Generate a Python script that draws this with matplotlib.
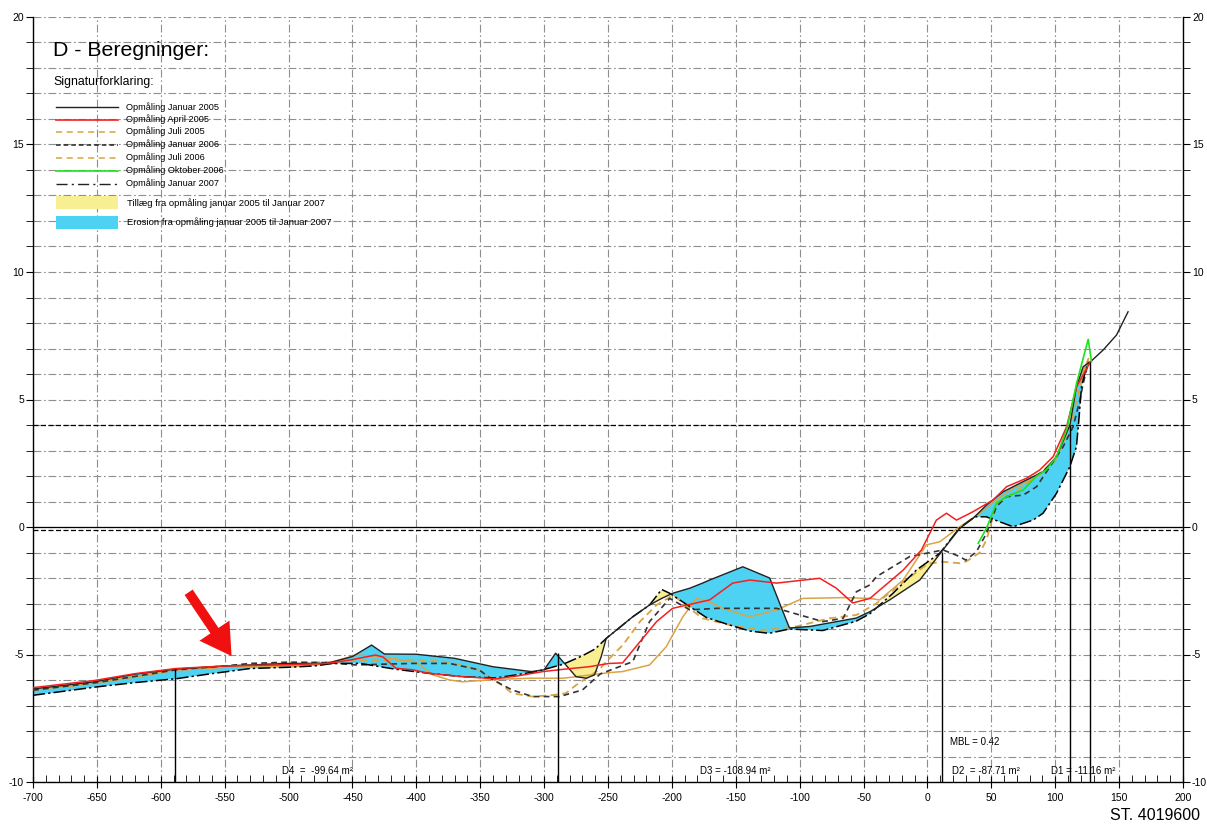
import numpy as np
import matplotlib
matplotlib.use('Agg')
import matplotlib.pyplot as plt
from matplotlib.lines import Line2D
from matplotlib.patches import Rectangle, FancyArrowPatch

plt.rcParams['font.family'] = ['Liberation Sans', 'DejaVu Sans']
plt.rcParams['axes.unicode_minus'] = False

# ---------------- data ----------------
# Opmåling Januar 2005 (black solid)
jan05_x = [-700, -652, -620, -588, -550, -500, -470, -450, -435, -425, -400, -370, -340, -310, -300,
           -291, -275, -267, -260.6, -255.3, -251.4, -230.6, -217.5, -208, -199.5, -186, -176, -170.5,
           -144.5, -123.5, -108, -92, -55.6, -45, -29.6, -6, 11, 25.3, 35.7, 46.2, 59.2, 74.9, 90.5,
           101, 111.5, 116.6, 121.9, 127.6, 137.5, 148, 157]
jan05_y = [-6.35, -6.07, -5.77, -5.57, -5.45, -5.35, -5.35, -5.08, -4.63, -4.98, -4.99, -5.15, -5.48, -5.67, -5.6,
           -4.95, -5.87, -5.93, -5.8, -5.08, -4.37, -3.52, -3.06, -2.8, -2.6, -2.4, -2.2, -2.08,
           -1.56, -2.0, -3.96, -3.9, -3.57, -3.32, -2.86, -2.08, -0.97, -0.05, 0.34, 0.86, 1.38, 1.78, 2.17,
           2.76, 4.0, 5.5, 6.29, 6.48, 6.94, 7.53, 8.44]

# Opmåling April 2005 (red)
apr05_x = [-700, -652, -620, -588, -550, -500, -470, -450, -432, -426, -416, -403, -390, -364, -338, -322,
           -301, -285, -265, -249, -238.6, -225, -212, -199.5, -170.5, -152.4, -139, -118, -84.3, -71.3,
           -58.5, -45, -19, -4.7, 7, 14.9, 22.7, 35.7, 51.4, 61.9, 77.5, 88, 98.4, 108.9, 116.7, 127.6]
apr05_y = [-6.3, -6.02, -5.75, -5.55, -5.45, -5.4, -5.35, -5.2, -5.02, -5.1, -5.54, -5.6, -5.74, -5.87, -5.95, -5.85,
           -5.67, -5.58, -5.48, -5.35, -5.33, -4.5, -3.71, -3.19, -2.86, -2.2, -2.08, -2.2, -2.01, -2.4,
           -2.98, -2.8, -1.69, -0.9, 0.27, 0.54, 0.27, 0.6, 1.06, 1.58, 1.91, 2.24, 2.76, 3.93, 5.5, 6.48]

# Opmåling Juli 2005 (tan dashed)
jul05_x = [-700, -650, -588, -550, -500, -470, -447, -400, -374, -351, -335, -325, -309, -293, -283, -275,
           -257, -251.4, -238.4, -225, -212, -199, -186, -176, -155, -128.6, -102.6, -76.5, -55.6, -40,
           -20, 0, 11, 25.3, 30.5, 41, 46.2, 54, 75, 100, 112, 120, 126]
jul05_y = [-6.4, -6.12, -5.62, -5.5, -5.33, -5.3, -5.25, -5.2, -5.3, -5.6, -6.13, -6.52, -6.65, -6.59, -6.52, -6.2,
           -5.6, -5.28, -4.63, -3.71, -3.06, -2.67, -3.2, -3.58, -3.84, -4.04, -3.9, -3.58, -3.45, -3.0,
           -2.2, -1.45, -1.36, -1.42, -1.35, -1.0, -0.51, 0.9, 1.6, 2.6, 4.0, 5.6, 6.6]

# Opmåling Januar 2006 (black dashed)
jan06_x = [-700, -650, -588, -550, -530, -500, -470, -447, -404, -374, -351, -340, -325, -309, -288, -270,
           -256, -230.6, -217.5, -201.7, -186, -165, -118, -81.8, -66, -55.6, -45, -40, -13.9, 12.2, 25.3,
           30, 38.3, 46.2, 54, 61.9, 74.9, 85.4, 95.8, 106.2, 114, 119.3, 121.9, 126]
jan06_y = [-6.4, -6.1, -5.6, -5.45, -5.35, -5.3, -5.32, -5.41, -5.35, -5.35, -5.6, -6.0, -6.39, -6.65, -6.65, -6.39,
           -5.76, -5.28, -3.71, -2.8, -3.25, -3.19, -3.19, -3.71, -3.58, -2.54, -2.27, -1.95, -1.16, -0.9, -1.16,
           -1.3, -0.97, -0.25, 0.8, 1.19, 1.25, 1.58, 2.36, 3.15, 3.93, 4.98, 5.63, 6.48]

# Opmåling Juli 2006 (tan solid in the profile)
jul06_x = [-700, -650, -588, -550, -520, -500, -470, -447, -429, -400, -387, -374, -364, -338, -311, -285,
           -249, -238.6, -217.5, -204.5, -191.4, -180.9, -170, -160, -139, -118, -97.6, -66, -45, -37.4,
           -19, -0.8, 9.6, 25.3, 41, 54, 67, 88, 101, 109, 116.7, 126]
jul06_y = [-6.38, -6.1, -5.6, -5.5, -5.45, -5.5, -5.35, -5.02, -5.08, -5.3, -5.8, -6.0, -6.07, -5.98, -5.93, -5.93,
           -5.71, -5.67, -5.41, -4.7, -3.52, -2.8, -2.95, -3.19, -3.52, -3.25, -2.8, -2.77, -2.8, -2.86,
           -2.08, -0.7, -0.58, 0.01, 0.54, 1.06, 1.52, 2.04, 2.7, 3.9, 5.5, 6.6]

# Opmåling Oktober 2006 (green)
okt06_x = [39.7, 46.2, 54, 61.9, 74.9, 85.4, 93, 101, 108.9, 116.7, 125.8, 128.4]
okt06_y = [-0.64, -0.05, 0.93, 1.19, 1.45, 2.0, 2.24, 2.76, 3.8, 5.63, 7.36, 6.48]

# Opmåling Januar 2007 (black dash-dot)
jan07_x = [-700, -650, -620, -588, -560, -530, -500, -480, -465, -444, -416, -390, -364, -338, -322, -306,
           -290, -285, -270, -260, -251.4, -230.6, -217.5, -208, -201.7, -186, -173, -155, -139, -124, -108,
           -82, -56, -45, -27, -8.7, 9.6, 25, 37, 46, 67, 82.6, 90.5, 101, 111.4, 116.6, 118.5, 120.6,
           124, 127.6]
jan07_y = [-6.6, -6.27, -6.1, -5.95, -5.75, -5.55, -5.5, -5.45, -5.35, -5.35, -5.58, -5.74, -5.87, -5.92, -5.8, -5.67,
           -5.45, -5.38, -5.05, -4.78, -4.37, -3.52, -3.06, -2.45, -2.6, -3.12, -3.55, -3.84, -4.08, -4.17, -4.0,
           -4.06, -3.7, -3.4, -2.6, -1.69, -1.03, -0.05, 0.4, 0.4, 0.01, 0.27, 0.54, 1.32, 2.36, 3.15, 4.2, 5.5,
           6.2, 6.48]

# section lines and volume annotations
section_x = [-588.5, -289, 11.2, 111.4, 127.6]
section_top = [-5.57, -4.95, -0.97, 4.0, 6.48]
labels_txt = ["D4  =  -99.64 m²", "D3 = -108.94 m²", "MBL = 0.42", "D2  = -87.71 m²", "D1 = -11.16 m²"]
labels_x = [-505, -178, 17.5, 19, 96.6]
labels_y = [-9.57, -9.57, -8.43, -9.57, -9.57]

legend_labels = ["Opmåling Januar 2005", "Opmåling April 2005", "Opmåling Juli 2005",
                 "Opmåling Januar 2006", "Opmåling Juli 2006", "Opmåling Oktober 2006",
                 "Opmåling Januar 2007"]
fill_labels = ["Tillæg fra opmåling januar 2005 til Januar 2007",
               "Erosion fra opmåling januar 2005 til Januar 2007"]

# ---------------- figure ----------------
W, H = 1207, 827
fig = plt.figure(figsize=(W / 100, H / 100), dpi=100)
ax = fig.add_axes([33 / W, 1 - 782 / H, (1183 - 33) / W, (782 - 17) / H])
ax.set_xlim(-700, 200)
ax.set_ylim(-10, 20)

BLUE = '#4dd2f4'
YEL = '#f8ee92'
TAN = '#d9a443'
RED = '#f42020'
GREEN = '#1fe01f'

gstyle = (0, (7, 2.5, 1.5, 2.5))
ax.set_xticks(np.arange(-700, 201, 50))
ax.set_xticks(np.arange(-700, 201, 10), minor=True)
ax.set_yticks(np.arange(-10, 21, 5))
ax.set_yticks(np.arange(-10, 21, 1), minor=True)
ax.grid(True, which='major', axis='x', color='#8e8e8e', lw=0.8, linestyle=gstyle)
ax.grid(True, which='both', axis='y', color='#8e8e8e', lw=0.8, linestyle=gstyle)
ax.set_axisbelow(True)
ax.spines['top'].set_visible(False)
for s in ['left', 'right', 'bottom']:
    ax.spines[s].set_linewidth(1.0)
ax.tick_params(axis='y', which='both', left=True, right=True, labelleft=True, labelright=True,
               direction='out', labelsize=7.5, pad=1.5)
ax.tick_params(axis='y', which='major', length=5)
ax.tick_params(axis='y', which='minor', length=5)
ax.tick_params(axis='x', which='major', direction='inout', length=9, labelsize=7.5)
ax.tick_params(axis='x', which='minor', direction='in', length=5)

# fills between Jan 2005 and Jan 2007
gx = np.union1d(jan05_x, jan07_x)
gx = gx[(gx >= -700) & (gx <= 127.6)]
a = np.interp(gx, jan05_x, jan05_y)
b = np.interp(gx, jan07_x, jan07_y)
ax.fill_between(gx, a, b, where=b > a, interpolate=True, color=YEL, lw=0, zorder=2)
ax.fill_between(gx, a, b, where=b < a, interpolate=True, color=BLUE, lw=0, zorder=2)

# reference lines
ax.axhline(4, color='black', lw=0.9, linestyle=(0, (4, 2)), zorder=3)
ax.axhline(0, color='black', lw=0.9, zorder=3)
ax.axhline(-0.12, color='black', lw=0.9, linestyle=(0, (4, 2)), zorder=3)

# profiles
ax.plot(jul06_x, jul06_y, color=TAN, lw=1.1, zorder=4)
ax.plot(jul05_x, jul05_y, color=TAN, lw=1.3, linestyle=(0, (4, 2.5)), zorder=4)
ax.plot(jan06_x, jan06_y, color='#333333', lw=1.2, linestyle=(0, (3.5, 2.5)), zorder=4)
ax.plot(jan07_x, jan07_y, color='black', lw=1.1, linestyle=(0, (8, 2, 1.5, 2)), zorder=5)
ax.plot(jan05_x, jan05_y, color='#222222', lw=1.0, zorder=5)
ax.plot(apr05_x, apr05_y, color=RED, lw=1.1, zorder=6)
ax.plot(okt06_x, okt06_y, color=GREEN, lw=1.2, zorder=6)

# section lines
ax.vlines(section_x, -10, section_top, color='black', lw=1.0, zorder=6)
for t, x, y in zip(labels_txt, labels_x, labels_y):
    ax.text(x, y, t, fontsize=7, va='center', ha='left', zorder=7)

# red arrow
arr = FancyArrowPatch((-579.4, -2.47), (-543.4, -5.15),
                      arrowstyle='simple,head_length=1.1,head_width=1.3,tail_width=0.35',
                      mutation_scale=20, color='#f01010', lw=0, zorder=8)
ax.add_patch(arr)

# ---------------- header / legend ----------------
def P(x, y):
    return (x / W, 1 - y / H)

fig.text(*P(53, 51), "D - Beregninger:", fontsize=15.3, va='center', ha='left')
fig.text(*P(53, 82), "Signaturforklaring:", fontsize=8.8, va='center', ha='left')

leg_y = [107, 119.5, 131.5, 144.5, 157.5, 170.5, 183.5]
leg_styles = [dict(color='#222222', lw=1.0, linestyle='-'),
              dict(color=RED, lw=1.2, linestyle='-'),
              dict(color=TAN, lw=1.1, linestyle=(0, (4, 3))),
              dict(color='#222222', lw=1.1, linestyle=(0, (3, 2))),
              dict(color=TAN, lw=1.1, linestyle=(0, (4, 3))),
              dict(color=GREEN, lw=1.2, linestyle='-'),
              dict(color='#222222', lw=1.0, linestyle=(0, (8, 3, 1.5, 3)))]
for y, st, lab in zip(leg_y, leg_styles, legend_labels):
    x0, y0 = P(56, y)
    x1, _ = P(118, y)
    fig.add_artist(Line2D([x0, x1], [y0, y0], transform=fig.transFigure, **st))
    fig.text(*P(126, y), lab, fontsize=6.6, va='center', ha='left')

for (yt, yb), col, lab in zip([(196.5, 209), (215.5, 228.5)], [YEL, BLUE], fill_labels):
    x0, y0 = P(56, yb)
    fig.add_artist(Rectangle((x0, y0), 62 / W, (yb - yt) / H, transform=fig.transFigure,
                             facecolor=col, edgecolor='none'))
    fig.text(*P(127, (yt + yb) / 2), lab, fontsize=6.8, va='center', ha='left')

fig.text(*P(1200, 815), "ST. 4019600", fontsize=11.5, va='center', ha='right')

fig.savefig('out.png', dpi=100)
